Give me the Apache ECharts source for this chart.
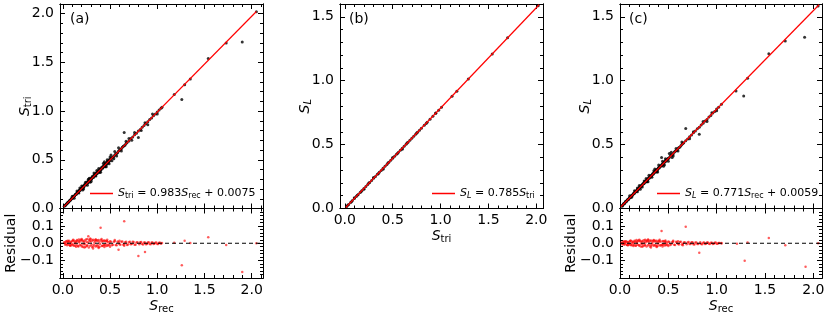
<!DOCTYPE html>
<html><head><meta charset="utf-8">
<script src="https://cdn.jsdelivr.net/npm/echarts@6/dist/echarts.min.js"></script>
<style>html,body{margin:0;padding:0;background:#fff}#c{width:830px;height:318px}</style>
</head><body><div id="c"></div>
<script>
// ---------------- data ----------------
const panelLabels = ['(a)', '(b)', '(c)'];
const xTickLabels = [0, 0.5, 1.0, 1.5, 2.0];
const yTickLabelsA = [0, 0.5, 1.0, 1.5, 2.0];
const yTickLabelsBC = [0, 0.5, 1.0, 1.5];
const resTickLabels = [-0.1, 0, 0.1];

// panel (a): S_tri vs S_rec
const aMain = [
[0.02,0.028],[0.03,0.036],[0.04,0.05],[0.05,0.058],[0.06,0.066],[0.07,0.08],[0.08,0.087],[0.09,0.1],[0.1,0.108],[0.11,0.121],
[0.12,0.127],[0.13,0.142],[0.14,0.147],[0.15,0.163],[0.16,0.165],[0.17,0.183],[0.18,0.186],[0.19,0.203],[0.2,0.204],[0.21,0.225],
[0.22,0.222],[0.23,0.243],[0.24,0.241],[0.25,0.265],[0.26,0.26],[0.27,0.285],[0.28,0.279],[0.29,0.302],[0.3,0.298],[0.31,0.323],
[0.32,0.318],[0.33,0.34],[0.34,0.338],[0.35,0.36],[0.36,0.356],[0.37,0.38],[0.38,0.375],[0.39,0.398],[0.4,0.394],[0.41,0.418],
[0.42,0.413],[0.43,0.436],[0.44,0.434],[0.45,0.456],[0.46,0.452],[0.47,0.477],[0.48,0.47],[0.49,0.497],[0.5,0.49],[0.52,0.52],
[0.54,0.535],[0.56,0.56],[0.58,0.573],[0.6,0.598],[0.62,0.614],[0.64,0.64],[0.66,0.652],[0.68,0.678],[0.7,0.692],[0.72,0.718],
[0.74,0.733],[0.76,0.757],[0.78,0.772],[0.8,0.797],[0.82,0.81],[0.84,0.834],[0.86,0.852],[0.88,0.874],[0.9,0.89],[0.92,0.913],
[0.94,0.93],[0.96,0.952],[0.98,0.97],[1.0,0.99],[1.02,1.012],[1.04,1.03],[1.05,1.04],
[0.1,0.125],[0.12,0.105],[0.15,0.18],[0.17,0.158],[0.2,0.23],[0.22,0.2],[0.24,0.27],[0.26,0.238],[0.28,0.31],[0.3,0.276],
[0.33,0.365],[0.35,0.335],[0.38,0.41],[0.4,0.372],[0.43,0.465],[0.45,0.428],[0.47,0.5],[0.49,0.46],[0.5,0.53],[0.52,0.49],
[0.55,0.585],[0.57,0.54],[0.59,0.625],[0.62,0.59],[0.65,0.78],[0.67,0.69],[0.7,0.72],[0.73,0.7],[0.76,0.78],[0.8,0.73],
[0.83,0.8],[0.87,0.88],[0.9,0.86],[0.95,0.97],[1.0,0.97],[1.18,1.17],[1.26,1.12],[1.29,1.27],[1.35,1.33],[1.54,1.54],
[1.73,1.70],[1.9,1.71],[2.05,2.02]
];
const aMainDense = [
[0.015,0.022],[0.025,0.03],[0.035,0.043],[0.045,0.05],[0.055,0.064],[0.065,0.069],[0.075,0.083],[0.085,0.089],[0.095,0.104],[0.105,0.109],
[0.115,0.125],[0.125,0.13],[0.135,0.146],[0.145,0.148],[0.155,0.167],[0.165,0.168],[0.175,0.187],[0.185,0.19],[0.195,0.208],[0.205,0.208],
[0.215,0.23],[0.225,0.227],[0.235,0.249],[0.245,0.246],[0.255,0.272],[0.265,0.265],[0.275,0.292],[0.285,0.284],[0.295,0.31],[0.305,0.303],
[0.315,0.33],[0.325,0.322],[0.335,0.349],[0.345,0.342],[0.355,0.368],[0.365,0.362],[0.375,0.388],[0.385,0.38],[0.395,0.407],[0.405,0.4],
[0.415,0.426],[0.425,0.419],[0.435,0.446],[0.445,0.438],[0.455,0.465],[0.465,0.457],[0.475,0.485],[0.485,0.477],[0.495,0.503],[0.51,0.514],
[0.53,0.528],[0.55,0.55],[0.57,0.566],[0.59,0.59],[0.61,0.605],[0.63,0.629],[0.65,0.645],[0.67,0.668],
[0.18,0.21],[0.21,0.19],[0.27,0.3],[0.29,0.27],[0.36,0.39],[0.39,0.37],[0.44,0.48],[0.46,0.43],[0.51,0.55],[0.54,0.51]
];
const aFit = [[0.01,0.017],[2.05,2.023]];
const aRes = [
[0.02,0.003],[0.03,-0.004],[0.04,0.008],[0.05,-0.006],[0.06,0.01],[0.07,-0.01],[0.08,0.005],[0.09,-0.012],[0.1,0.012],[0.11,-0.008],
[0.12,0.015],[0.13,-0.014],[0.14,0.006],[0.15,0.018],[0.16,-0.016],[0.17,0.01],[0.18,-0.01],[0.19,0.02],[0.2,-0.018],[0.21,0.012],
[0.22,-0.006],[0.23,0.016],[0.24,-0.02],[0.25,0.008],[0.26,-0.012],[0.27,0.04],[0.28,0.018],[0.29,-0.015],[0.3,0.01],[0.31,-0.022],
[0.32,0.02],[0.33,-0.008],[0.34,0.015],[0.35,-0.018],[0.36,0.012],[0.37,-0.012],[0.38,0.018],[0.39,-0.02],[0.4,0.089],[0.41,0.01],
[0.42,-0.014],[0.43,0.016],[0.44,-0.01],[0.45,0.012],[0.46,-0.016],[0.47,0.01],[0.48,-0.008],[0.5,0.012],[0.52,-0.012],[0.54,0.008],
[0.56,-0.01],[0.58,0.01],[0.59,-0.038],[0.6,-0.006],[0.62,0.008],[0.64,-0.008],[0.65,0.127],[0.66,0.006],[0.68,-0.01],[0.7,0.006],
[0.72,-0.006],[0.74,0.008],[0.76,-0.008],[0.78,0.005],[0.8,-0.073],[0.82,0.006],[0.84,-0.005],[0.86,0.004],[0.87,-0.05],[0.88,-0.006],
[0.9,0.005],[0.92,-0.004],[0.94,0.004],[0.96,-0.005],[0.98,0.003],[1.0,-0.004],[1.02,0.003],[1.04,-0.003],[1.18,0.003],[1.26,-0.126],
[1.29,0.015],[1.35,0.001],[1.54,0.035],[1.73,-0.01],[1.9,-0.165],[2.05,0.0],
[0.05,0.015],[0.08,-0.015],[0.11,0.02],[0.14,-0.02],[0.17,0.022],[0.2,0.025],[0.23,-0.025],[0.26,0.025],[0.29,0.028],[0.32,-0.03],
[0.35,0.022],[0.38,-0.028],[0.41,0.025],[0.44,-0.022],[0.47,0.02],[0.5,-0.02],[0.55,0.018],[0.6,0.015],[0.65,-0.015]
];
const aResDense = [
[0.015,0.006],[0.025,-0.009],[0.035,0.012],[0.045,-0.011],[0.055,0.004],[0.065,0.014],[0.075,-0.013],[0.085,0.009],[0.095,-0.004],[0.105,0.016],
[0.115,-0.015],[0.125,0.002],[0.135,0.011],[0.145,-0.009],[0.155,0.013],[0.165,-0.019],[0.175,0.004],[0.185,0.015],[0.195,-0.012],[0.205,0.018],
[0.215,-0.022],[0.225,0.009],[0.235,-0.006],[0.245,0.021],[0.255,-0.016],[0.265,0.005],[0.275,-0.024],[0.285,0.012],[0.295,0.023],[0.305,-0.009],
[0.315,0.016],[0.325,-0.018],[0.335,0.004],[0.345,0.02],[0.355,-0.013],[0.365,0.017],[0.375,-0.021],[0.385,0.008],[0.395,-0.005],[0.405,0.019],
[0.415,-0.016],[0.425,0.012],[0.435,-0.011],[0.445,0.016],[0.455,-0.006],[0.465,0.013],[0.475,-0.014],[0.485,0.006],[0.495,-0.01],[0.51,0.009],
[0.53,-0.008],[0.55,0.011],[0.57,-0.012],[0.59,0.006],[0.61,-0.009],[0.63,0.01],[0.65,-0.006],[0.67,0.008],[0.69,-0.007],[0.71,0.009],
[0.73,-0.005],[0.75,0.007],[0.77,-0.009],[0.79,0.006],[0.81,-0.006],[0.83,0.007],[0.85,-0.007],[0.87,0.005],[0.89,-0.004],[0.91,0.006],
[0.93,-0.006],[0.95,0.004],[0.97,-0.003],[0.99,0.005],[1.01,-0.004],[1.03,0.003],[1.05,0.002]
];

// panel (b): S_L vs S_tri
const bMain = [
[0.02,0.016],[0.04,0.031],[0.06,0.047],[0.08,0.063],[0.1,0.079],[0.12,0.094],[0.14,0.11],[0.16,0.126],[0.18,0.141],[0.2,0.157],
[0.22,0.173],[0.24,0.188],[0.26,0.204],[0.28,0.22],[0.3,0.236],[0.32,0.251],[0.34,0.267],[0.36,0.283],[0.38,0.298],[0.4,0.314],
[0.42,0.33],[0.44,0.345],[0.46,0.361],[0.48,0.377],[0.5,0.393],[0.52,0.408],[0.54,0.424],[0.56,0.44],[0.58,0.455],[0.6,0.471],
[0.62,0.487],[0.64,0.502],[0.66,0.518],[0.68,0.534],[0.7,0.55],[0.72,0.565],[0.74,0.581],[0.76,0.597],[0.78,0.612],[0.8,0.628],
[0.83,0.652],[0.86,0.675],[0.89,0.699],[0.92,0.722],[0.95,0.746],[0.98,0.769],[1.01,0.793],[1.12,0.879],[1.17,0.918],[1.29,1.013],
[1.54,1.209],[1.7,1.335],[2.02,1.586],
[0.1,0.085],[0.2,0.151],[0.3,0.243],[0.4,0.307],[0.5,0.4],[0.6,0.464],[0.03,0.026],[0.07,0.053],[0.13,0.104],[0.17,0.131],
[0.25,0.199],[0.35,0.272],[0.45,0.356],[0.55,0.43],[0.65,0.512],[0.75,0.591],[0.85,0.665],[0.95,0.748]
];
const bFit = [[0.01,0.008],[2.03,1.594]];

// panel (c): S_L vs S_rec
const cMain = [
[0.02,0.022],[0.03,0.027],[0.04,0.04],[0.05,0.043],[0.06,0.055],[0.07,0.06],[0.08,0.071],[0.09,0.075],[0.1,0.087],[0.11,0.09],
[0.12,0.102],[0.13,0.106],[0.14,0.118],[0.15,0.121],[0.16,0.133],[0.17,0.137],[0.18,0.149],[0.19,0.152],[0.2,0.165],[0.21,0.167],
[0.22,0.18],[0.23,0.183],[0.24,0.196],[0.25,0.198],[0.26,0.212],[0.27,0.213],[0.28,0.227],[0.29,0.229],[0.3,0.243],[0.31,0.244],
[0.32,0.258],[0.33,0.26],[0.34,0.274],[0.35,0.275],[0.36,0.289],[0.37,0.291],[0.38,0.305],[0.39,0.306],[0.4,0.32],[0.41,0.322],
[0.42,0.335],[0.43,0.337],[0.44,0.35],[0.45,0.352],[0.46,0.366],[0.47,0.368],[0.48,0.381],[0.5,0.39],[0.52,0.41],[0.54,0.42],
[0.56,0.44],[0.58,0.452],[0.6,0.47],[0.62,0.482],[0.64,0.5],[0.66,0.514],[0.68,0.53],[0.7,0.544],[0.72,0.562],[0.74,0.575],
[0.76,0.592],[0.78,0.606],[0.8,0.623],[0.82,0.636],[0.84,0.654],[0.86,0.667],[0.88,0.685],[0.9,0.697],[0.92,0.716],[0.94,0.728],
[0.96,0.747],[0.98,0.759],[1.0,0.778],[1.02,0.792],[1.05,0.815],
[0.1,0.1],[0.12,0.088],[0.15,0.138],[0.18,0.132],[0.2,0.18],[0.23,0.168],[0.25,0.215],[0.28,0.21],[0.3,0.26],[0.33,0.245],
[0.35,0.295],[0.38,0.285],[0.4,0.34],[0.43,0.4],[0.45,0.33],[0.47,0.39],[0.5,0.37],[0.53,0.44],[0.55,0.41],[0.58,0.47],
[0.6,0.45],[0.64,0.52],[0.68,0.625],[0.72,0.545],[0.76,0.6],[0.82,0.58],[0.86,0.68],[0.9,0.68],[0.95,0.75],[1.0,0.765],
[1.2,0.92],[1.28,0.88],[1.32,1.02],[1.54,1.21],[1.71,1.31],[1.91,1.34],[2.05,1.585]
];
const cMainDense = [
[0.015,0.02],[0.025,0.02],[0.035,0.036],[0.045,0.037],[0.055,0.052],[0.065,0.053],[0.075,0.067],[0.085,0.068],[0.095,0.083],[0.105,0.084],
[0.115,0.098],[0.125,0.1],[0.135,0.114],[0.145,0.115],[0.155,0.129],[0.165,0.131],[0.175,0.145],[0.185,0.146],[0.195,0.16],[0.205,0.162],
[0.215,0.176],[0.225,0.177],[0.235,0.191],[0.245,0.193],[0.255,0.207],[0.265,0.208],[0.275,0.222],[0.285,0.224],[0.295,0.238],[0.305,0.239],
[0.315,0.253],[0.325,0.255],[0.335,0.268],[0.345,0.27],[0.355,0.284],[0.365,0.286],[0.375,0.299],[0.385,0.301],[0.395,0.315],[0.405,0.317],
[0.415,0.33],[0.425,0.332],[0.435,0.346],[0.445,0.348],[0.455,0.361],[0.465,0.363],[0.475,0.377],[0.485,0.379],[0.495,0.392],[0.51,0.4],
[0.53,0.42],[0.55,0.427],[0.57,0.448],[0.59,0.458],[0.61,0.478],[0.63,0.49],[0.65,0.508],
[0.18,0.16],[0.21,0.15],[0.27,0.235],[0.29,0.21],[0.36,0.31],[0.39,0.285],[0.44,0.37],[0.46,0.34],[0.51,0.43],[0.54,0.4]
];
const cFit = [[0.01,0.0136],[2.06,1.594]];
const cRes = [
[0.02,0.002],[0.03,-0.003],[0.04,0.007],[0.05,-0.005],[0.06,0.009],[0.07,-0.008],[0.08,0.004],[0.09,-0.01],[0.1,0.01],[0.11,-0.007],
[0.12,0.012],[0.13,-0.012],[0.14,0.005],[0.15,0.015],[0.16,-0.013],[0.17,0.008],[0.18,-0.009],[0.19,0.016],[0.2,-0.015],[0.21,0.01],
[0.22,-0.005],[0.23,0.013],[0.24,-0.016],[0.25,0.007],[0.26,-0.01],[0.27,0.014],[0.28,0.015],[0.29,-0.012],[0.3,0.008],[0.31,-0.018],
[0.32,0.016],[0.33,-0.007],[0.34,0.012],[0.35,-0.015],[0.36,0.01],[0.37,-0.01],[0.38,0.015],[0.39,-0.016],[0.4,0.012],[0.41,0.008],
[0.42,-0.012],[0.43,0.07],[0.44,-0.008],[0.45,0.01],[0.46,-0.013],[0.47,0.008],[0.48,-0.007],[0.5,0.01],[0.52,-0.01],[0.54,0.007],
[0.56,-0.008],[0.58,0.008],[0.6,-0.005],[0.62,0.007],[0.64,-0.007],[0.66,0.005],[0.68,0.095],[0.7,0.005],[0.72,-0.005],[0.74,0.006],
[0.76,-0.006],[0.78,0.004],[0.8,-0.004],[0.82,-0.055],[0.84,-0.004],[0.86,0.003],[0.88,-0.005],[0.9,0.004],[0.92,-0.003],[0.94,0.003],
[0.96,-0.004],[0.98,0.003],[1.0,-0.003],[1.02,0.002],[1.05,-0.002],[1.21,-0.003],[1.29,-0.1],[1.32,0.005],[1.54,0.03],[1.71,-0.012],
[1.92,-0.135],[2.05,0.0],
[0.05,0.012],[0.08,-0.012],[0.11,0.016],[0.14,-0.016],[0.17,0.018],[0.2,0.02],[0.23,-0.02],[0.26,0.02],[0.29,0.022],[0.32,-0.024],
[0.35,0.018],[0.38,-0.022],[0.41,0.02],[0.44,-0.018],[0.47,0.016],[0.5,-0.016],[0.55,0.014],[0.6,0.012],[0.65,-0.012]
];
const cResDense = [
[0.015,0.005],[0.025,-0.007],[0.035,0.01],[0.045,-0.009],[0.055,0.003],[0.065,0.011],[0.075,-0.01],[0.085,0.007],[0.095,-0.003],[0.105,0.013],
[0.115,-0.012],[0.125,0.002],[0.135,0.009],[0.145,-0.007],[0.155,0.01],[0.165,-0.015],[0.175,0.003],[0.185,0.012],[0.195,-0.01],[0.205,0.014],
[0.215,-0.018],[0.225,0.007],[0.235,-0.005],[0.245,0.017],[0.255,-0.013],[0.265,0.004],[0.275,-0.019],[0.285,0.01],[0.295,0.018],[0.305,-0.007],
[0.315,0.013],[0.325,-0.014],[0.335,0.003],[0.345,0.016],[0.355,-0.01],[0.365,0.014],[0.375,-0.017],[0.385,0.006],[0.395,-0.004],[0.405,0.015],
[0.415,-0.013],[0.425,0.01],[0.435,-0.009],[0.445,0.013],[0.455,-0.005],[0.465,0.01],[0.475,-0.011],[0.485,0.005],[0.495,-0.008],[0.51,0.007],
[0.53,-0.006],[0.55,0.009],[0.57,-0.01],[0.59,0.005],[0.61,-0.007],[0.63,0.008],[0.65,-0.005],[0.67,0.006],[0.69,-0.006],[0.71,0.007],
[0.73,-0.004],[0.75,0.006],[0.77,-0.007],[0.79,0.005],[0.81,-0.005],[0.83,0.006],[0.85,-0.006],[0.87,0.004],[0.89,-0.003],[0.91,0.005],
[0.93,-0.005],[0.95,0.003],[0.97,-0.003],[0.99,0.004],[1.01,-0.003],[1.03,0.002],[1.05,0.002]
];

// ---------------- helpers ----------------
const FONT = 'DejaVu Sans';
function range(a, b, step) { const out = []; const n = Math.round((b - a) / step); for (let i = 0; i <= n; i++) out.push(+(a + i * step).toFixed(4)); return out; }
function fmt(v) { return v < 0 ? '\u2212' + Math.abs(v).toFixed(1) : v.toFixed(1); }
const richName = {
  i: { fontStyle: 'italic', fontSize: 14, fontFamily: FONT, color: '#000', lineHeight: 16 },
  s: { fontSize: 10, fontFamily: FONT, color: '#000', verticalAlign: 'bottom', lineHeight: 10 },
  si: { fontSize: 10, fontStyle: 'italic', fontFamily: FONT, color: '#000', verticalAlign: 'bottom', lineHeight: 10 },
  n: { fontSize: 14, fontFamily: FONT, color: '#000', lineHeight: 16 }
};
const richLeg = {
  i: { fontStyle: 'italic', fontSize: 11, fontFamily: FONT, color: '#000', lineHeight: 13 },
  s: { fontSize: 8, fontFamily: FONT, color: '#000', verticalAlign: 'bottom', lineHeight: 8 },
  si: { fontSize: 8, fontStyle: 'italic', fontFamily: FONT, color: '#000', verticalAlign: 'bottom', lineHeight: 8 },
  n: { fontSize: 11, fontFamily: FONT, color: '#000', lineHeight: 13 }
};

const xAxes = [], yAxes = [], grids = [];
function axisSet(list, dim, gi, min, max, majors, minors, labelVals, name, nameGap) {
  const pos = dim === 'x' ? ['bottom', 'top'] : ['left', 'right'];
  const base = (p, ticks, len) => ({
    type: 'value', gridIndex: gi, min: min, max: max, position: p,
    axisLine: { show: true, onZero: false, lineStyle: { color: '#000', width: 1 } },
    axisTick: { show: true, inside: true, length: len, customValues: ticks, lineStyle: { color: '#000', width: 1 } },
    axisLabel: { show: false }, splitLine: { show: false }, minorTick: { show: false }
  });
  const primary = base(pos[0], majors, 5);
  if (labelVals) {
    primary.axisLabel = { show: true, customValues: labelVals, formatter: fmt, fontSize: 14, fontFamily: FONT, color: '#000', margin: dim === 'x' ? 5 : 6 };
  }
  if (name) {
    primary.name = name; primary.nameLocation = 'middle'; primary.nameGap = nameGap; primary.nameMoveOverlap = false;
    primary.nameTextStyle = { fontFamily: FONT, fontSize: 14, color: '#000', rich: richName };
  }
  const idx = list.length;
  list.push(primary, base(pos[0], minors, 3), base(pos[1], majors, 5), base(pos[1], minors, 3));
  return idx;
}

function panel(left, width, top, height, xr, yr, xMaj, xMin, yMaj, yMin, xLab, yLab, xName, yName, xGap, yGap) {
  const gi = grids.length;
  grids.push({ left: left, top: top, width: width, height: height });
  const xi = axisSet(xAxes, 'x', gi, xr[0], xr[1], xMaj, xMin, xLab, xName, xGap);
  const yi = axisSet(yAxes, 'y', gi, yr[0], yr[1], yMaj, yMin, yLab, yName, yGap);
  return { xi, yi };
}

const MAIN_TOP = 4, MAIN_H = 204.5, RES_TOP = 208.5, RES_H = 69.5;
const xrA = [-0.03, 2.12], xrB = [-0.05, 2.07], xrC = [0, 2.09];
const xMaj = [0, 0.5, 1.0, 1.5, 2.0];
const resMaj = [-0.2, -0.1, 0, 0.1, 0.2];
const resMin = range(-0.2, 0.2, 0.02);

const pA = panel(60, 203, MAIN_TOP, MAIN_H, xrA, [0, 2.1], xMaj, range(0, 2.1, 0.1), yTickLabelsA, range(0, 2.1, 0.1), null, yTickLabelsA, null, '{i|S}{s|tri}', 0, 27);
const pAr = panel(60, 203, RES_TOP, RES_H, xrA, [-0.2, 0.2], xMaj, range(0, 2.1, 0.1), resMaj, resMin, xTickLabels, resTickLabels, '{i|S}{s|rec}', 'Residual', 20, 42);
const pB = panel(340, 203, MAIN_TOP, MAIN_H, xrB, [0, 1.6], xMaj, range(0, 2.0, 0.1), yTickLabelsBC, range(0, 1.6, 0.1), xTickLabels, yTickLabelsBC, '{i|S}{s|tri}', '{i|S}{si|L}', 20, 27);
const pC = panel(620, 202, MAIN_TOP, MAIN_H, xrC, [0, 1.6], xMaj, range(0, 2.0, 0.1), yTickLabelsBC, range(0, 1.6, 0.1), null, yTickLabelsBC, null, '{i|S}{si|L}', 0, 27);
const pCr = panel(620, 202, RES_TOP, RES_H, xrC, [-0.2, 0.2], xMaj, range(0, 2.0, 0.1), resMaj, resMin, xTickLabels, resTickLabels, '{i|S}{s|rec}', 'Residual', 20, 42);

function scatter(p, data, color, size, z) {
  return { type: 'scatter', xAxisIndex: p.xi, yAxisIndex: p.yi, data: data, symbolSize: size, itemStyle: { color: color }, z: z, silent: true, animation: false };
}
function line(p, name, data, color, width, dash, z) {
  return { type: 'line', name: name, xAxisIndex: p.xi, yAxisIndex: p.yi, data: data, showSymbol: false, symbol: 'none',
    lineStyle: { color: color, width: width, type: dash ? [4, 3] : 'solid' }, itemStyle: { color: color }, z: z, silent: true, animation: false };
}

const RED_PT = 'rgba(255,0,0,0.8)';
const series = [
  scatter(pA, aMain, '#000', 3, 2),
  scatter(pA, aMainDense, '#000', 3, 2),
  line(pA, 'fitA', aFit, '#ff0000', 1.2, false, 3),
  scatter(pAr, aRes, RED_PT, 2.5, 2),
  scatter(pAr, aResDense, RED_PT, 2.5, 2),
  line(pAr, 'zeroA', [[xrA[0], 0], [xrA[1], 0]], '#000', 1, true, 3),
  scatter(pB, bMain, '#000', 3, 2),
  line(pB, 'fitB', bFit, '#ff0000', 1.2, false, 3),
  scatter(pC, cMain, '#000', 3, 2),
  scatter(pC, cMainDense, '#000', 3, 2),
  line(pC, 'fitC', cFit, '#ff0000', 1.2, false, 3),
  scatter(pCr, cRes, RED_PT, 2.5, 2),
  scatter(pCr, cResDense, RED_PT, 2.5, 2),
  line(pCr, 'zeroC', [[xrC[0], 0], [xrC[1], 0]], '#000', 1, true, 3)
];

const legendText = {
  fitA: '{i|S}{s|tri}{n| = 0.983}{i|S}{s|rec}{n| + 0.0075}',
  fitB: '{i|S}{si|L}{n| = 0.785}{i|S}{s|tri}',
  fitC: '{i|S}{si|L}{n| = 0.771}{i|S}{s|rec}{n| + 0.0059}'
};
function legend(name, left) {
  return { data: [name], left: left, top: 188, padding: 0, icon: 'rect', itemWidth: 23, itemHeight: 1.5, itemGap: 0,
    selectedMode: false, formatter: n => legendText[n], textStyle: { fontFamily: FONT, fontSize: 11, color: '#000', rich: richLeg } };
}

const option = {
  animation: false,
  backgroundColor: '#fff',
  grid: grids,
  xAxis: xAxes,
  yAxis: yAxes,
  legend: [legend('fitA', 90), legend('fitB', 432), legend('fitC', 657)],
  series: series,
  graphic: [
    { type: 'text', left: 70, top: 12, style: { text: panelLabels[0], font: '14px "DejaVu Sans"', fill: '#000' } },
    { type: 'text', left: 349, top: 12, style: { text: panelLabels[1], font: '14px "DejaVu Sans"', fill: '#000' } },
    { type: 'text', left: 629, top: 12, style: { text: panelLabels[2], font: '14px "DejaVu Sans"', fill: '#000' } }
  ]
};
const chart = echarts.init(document.getElementById('c'), null, { renderer: 'canvas' });
chart.setOption(option);
</script></body></html>
